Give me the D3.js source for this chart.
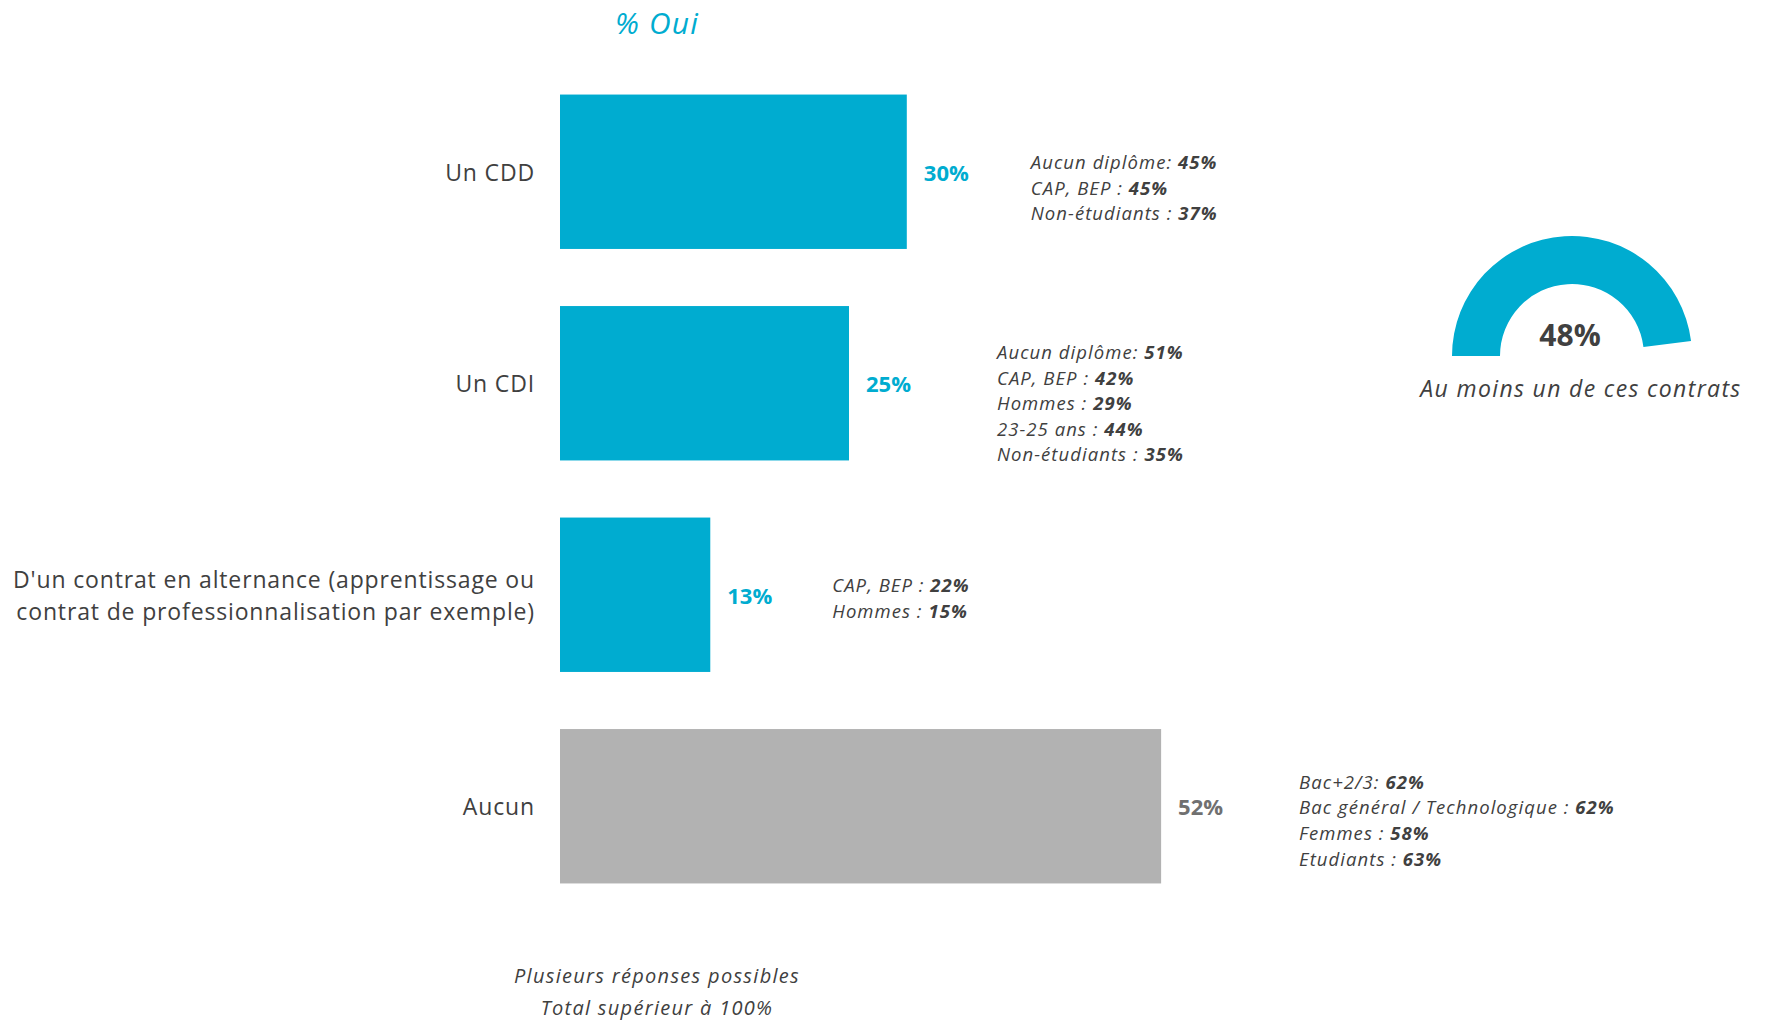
<!DOCTYPE html>
<html lang="fr">
<head>
<meta charset="utf-8">
<title>% Oui</title>
<script src="https://cdn.jsdelivr.net/npm/d3@7"></script>
<style>
  html, body { margin: 0; padding: 0; background: #ffffff; }
  svg { display: block; font-family: "Open Sans", "DejaVu Sans", sans-serif; }
</style>
</head>
<body>
<div id="chart"></div>
<script>
// ---- Data ----
const categories = [
  ["Un CDD"],
  ["Un CDI"],
  ["D'un contrat en alternance (apprentissage ou", "contrat de professionnalisation par exemple)"],
  ["Aucun"]
];
const categoryKeys = ["cdd", "cdi", "alternance", "aucun"];
const values = [30, 25, 13, 52];
const isNone = [false, false, false, true];

// Sub-group highlights: [label, value]
const notesCDD = [["Aucun diplôme: ", "45%"], ["CAP, BEP : ", "45%"], ["Non-étudiants : ", "37%"]];
const notesCDI = [["Aucun diplôme: ", "51%"], ["CAP, BEP : ", "42%"], ["Hommes : ", "29%"], ["23-25 ans : ", "44%"], ["Non-étudiants : ", "35%"]];
const notesAlternance = [["CAP, BEP : ", "22%"], ["Hommes : ", "15%"]];
const notesAucun = [["Bac+2/3: ", "62%"], ["Bac général / Technologique : ", "62%"], ["Femmes : ", "58%"], ["Etudiants : ", "63%"]];
const notes = [notesCDD, notesCDI, notesAlternance, notesAucun];

const gaugeValue = 48;
const gaugeLabel = "Au moins un de ces contrats";
const title = "% Oui";
const footnotes = ["Plusieurs réponses possibles", "Total supérieur à 100%"];

// ---- Layout ----
const W = 1767, H = 1020;
const BLUE = "#00acd0";
const GREY_BAR = "#b2b2b2";
const TEXT = "#404040";
const noteOffset = [124, 148, 122, 138];   // gap from bar end to the notes block
const noteDy = [15, 19, 2, 13];            // vertical shift of the notes block
const noteLine = 25.6;

const svg = d3.select("#chart").append("svg")
  .attr("width", W).attr("height", H);

const x = d3.scaleLinear().domain([0, 100]).range([560, 1716]);
const y = d3.scaleBand().domain(categoryKeys).range([66, 912])
  .paddingInner(0.27).paddingOuter(0.135);

// Title
svg.append("text")
  .attr("x", 657).attr("y", 22.5)
  .attr("text-anchor", "middle").attr("dominant-baseline", "central")
  .attr("font-style", "italic").attr("font-size", 30)
  .attr("letter-spacing", 1.2)
  .attr("fill", BLUE)
  .text(title);

const rows = categoryKeys.map((k, i) => ({
  key: k, lines: categories[i], value: values[i], none: isNone[i], notes: notes[i], i
}));

// Bars
svg.append("g").selectAll("rect").data(rows).join("rect")
  .attr("x", x(0))
  .attr("y", d => y(d.key))
  .attr("width", d => x(d.value) - x(0))
  .attr("height", y.bandwidth())
  .attr("fill", d => d.none ? GREY_BAR : BLUE);

// Category labels
const catG = svg.append("g").selectAll("text").data(rows).join("text")
  .attr("x", x(0) - 25)
  .attr("y", d => y(d.key) + y.bandwidth() / 2)
  .attr("text-anchor", "end")
  .attr("font-size", 23)
  .attr("letter-spacing", 0.85)
  .attr("fill", TEXT);
catG.each(function(d) {
  const t = d3.select(this);
  const lh = 32.5;
  const off = -(d.lines.length - 1) * lh / 2;
  d.lines.forEach((ln, j) => {
    t.append("tspan")
      .attr("x", x(0) - 25)
      .attr("y", y(d.key) + y.bandwidth() / 2 + off + j * lh)
      .attr("dominant-baseline", "central")
      .text(ln);
  });
});

// Value labels
svg.append("g").selectAll("text").data(rows).join("text")
  .attr("x", d => x(d.value) + 17)
  .attr("y", d => y(d.key) + y.bandwidth() / 2)
  .attr("dominant-baseline", "central")
  .attr("font-size", 22).attr("font-weight", 700)
  .attr("fill", d => d.none ? "#707070" : BLUE)
  .text(d => d.value + "%");

// Sub-group notes
rows.forEach(d => {
  const n = d.notes.length;
  const cy = y(d.key) + y.bandwidth() / 2 + noteDy[d.i];
  const g = svg.append("g");
  d.notes.forEach((nt, j) => {
    const t = g.append("text")
      .attr("x", x(d.value) + noteOffset[d.i])
      .attr("y", cy + (j - (n - 1) / 2) * noteLine)
      .attr("dominant-baseline", "central")
      .attr("font-size", 18.5).attr("font-style", "italic")
      .attr("letter-spacing", 1.05)
      .attr("fill", TEXT);
    t.append("tspan").text(nt[0]);
    t.append("tspan").attr("font-weight", 700).text(nt[1]);
  });
});

// Gauge: share of a full turn, starting at 9 o'clock
const gx = 1572, gy = 356;
const angle = d3.scaleLinear().domain([0, 100]).range([0, 2 * Math.PI]);
const arc = d3.arc().innerRadius(72).outerRadius(120)
  .startAngle(-Math.PI / 2)
  .endAngle(-Math.PI / 2 + angle(gaugeValue));
svg.append("path")
  .attr("transform", `translate(${gx},${gy})`)
  .attr("d", arc())
  .attr("fill", BLUE);
svg.append("text")
  .attr("x", gx - 2).attr("y", 334)
  .attr("text-anchor", "middle").attr("dominant-baseline", "central")
  .attr("font-size", 30).attr("font-weight", 700)
  .attr("fill", TEXT)
  .text(gaugeValue + "%");
svg.append("text")
  .attr("x", 1581).attr("y", 388)
  .attr("text-anchor", "middle").attr("dominant-baseline", "central")
  .attr("font-size", 23).attr("font-style", "italic")
  .attr("letter-spacing", 1.35)
  .attr("fill", TEXT)
  .text(gaugeLabel);

// Footnotes
svg.append("g").selectAll("text").data(footnotes).join("text")
  .attr("x", 657)
  .attr("y", (d, i) => 975 + i * 32)
  .attr("text-anchor", "middle").attr("dominant-baseline", "central")
  .attr("font-size", 20).attr("font-style", "italic")
  .attr("letter-spacing", 1.3)
  .attr("fill", TEXT)
  .text(d => d);
</script>
</body>
</html>
